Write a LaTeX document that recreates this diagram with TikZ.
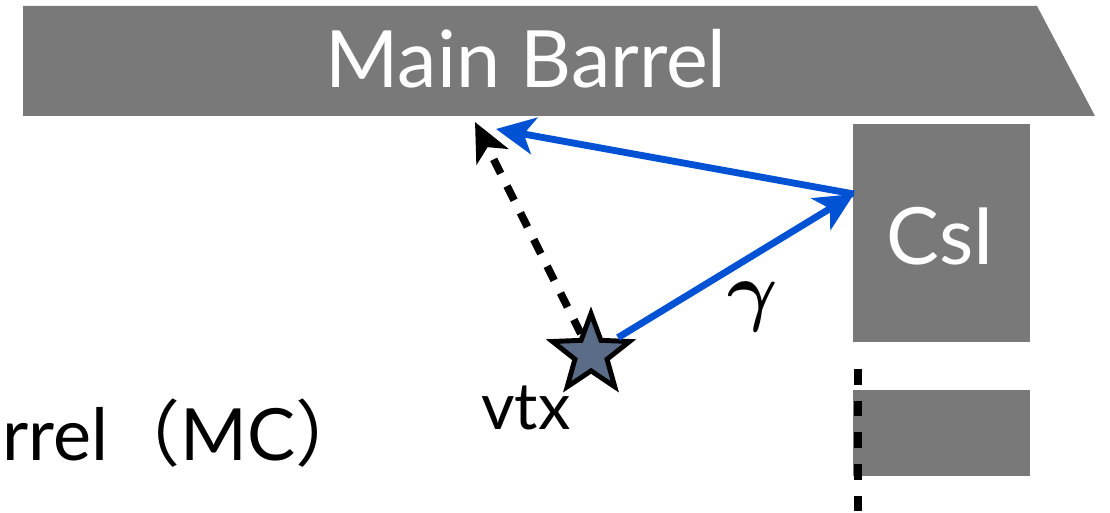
\documentclass[tikz,border=0pt]{standalone}
\usepackage{fontspec}
\setmainfont{Lato}
\newfontfamily\cjk{Noto Sans CJK SC}
\usetikzlibrary{shapes.geometric,arrows.meta}

\definecolor{detgray}{RGB}{121,121,121}
\definecolor{gammablue}{RGB}{0,82,212}
\definecolor{starfill}{RGB}{91,108,136}

\newcommand*{\bigfont}{\fontsize{45}{50}\selectfont}

\begin{document}
\begin{tikzpicture}
[
	x=0.02cm, y=-0.02cm,
	detbox/.style={fill=detgray,inner sep=0pt},
	detlabel/.style={text=white,font=\bigfont,anchor=base},
	vtxstar/.style={star,star points=5,star point ratio=2.4,draw=black,fill=starfill,line width=2.8pt,minimum size=1.62cm,inner sep=0pt},
	gammaarrow/.style={gammablue,line width=3.9pt,-{Stealth[length=22pt,width=21pt,inset=6pt]}},
	trackarrow/.style={black,line width=4.4pt,dash pattern=on 9pt off 8pt,-{Stealth[length=22pt,width=20pt,inset=6pt]}}
]

	\useasboundingbox (0,0) rectangle (1110,513);

	% main barrel
	\fill[detgray] (23,6) -- (1037,6) -- (1095,116) -- (23,116) -- cycle;
	\node[detlabel] (barrel) at (526,88) {Main Barrel};

	% CsI and the block below it
	\node[detbox,minimum width=3.54cm,minimum height=4.36cm] (csi) at (941.5,233) {};
	\node[detlabel] (csilabel) at (941,265) {CsI};
	\node[detbox,minimum width=3.54cm,minimum height=1.72cm] (lower) at (941.5,433) {};
	\draw[line width=5pt,dash pattern=on 9pt off 9pt] (858,369) -- (858,530);

	% vertex
	\node[vtxstar] (vtx) at (591,354) {};
	\node[font=\fontsize{37}{40}\selectfont,anchor=base] (vtxlabel) at (526,430) {vtx};

	\coordinate (hit) at (854,194);
	\coordinate (top1) at (475,122);
	\coordinate (top2) at (496,129);

	\draw[gammaarrow,shorten <=1pt] (vtx) -- (hit);
	\draw[gammaarrow] (hit) -- (top2);
	\draw[trackarrow] (vtx) -- (top1);
	\node[scale=4.4,font=\boldmath,inner sep=0pt] (gamma) at (753,307) {$\gamma$};

	% cut-off caption
	\node[font=\fontsize{41}{45}\selectfont,anchor=base west,inner sep=0pt] (caption) at (2,460) {rrel{\cjk （}MC{\cjk ）}};

\end{tikzpicture}
\end{document}
